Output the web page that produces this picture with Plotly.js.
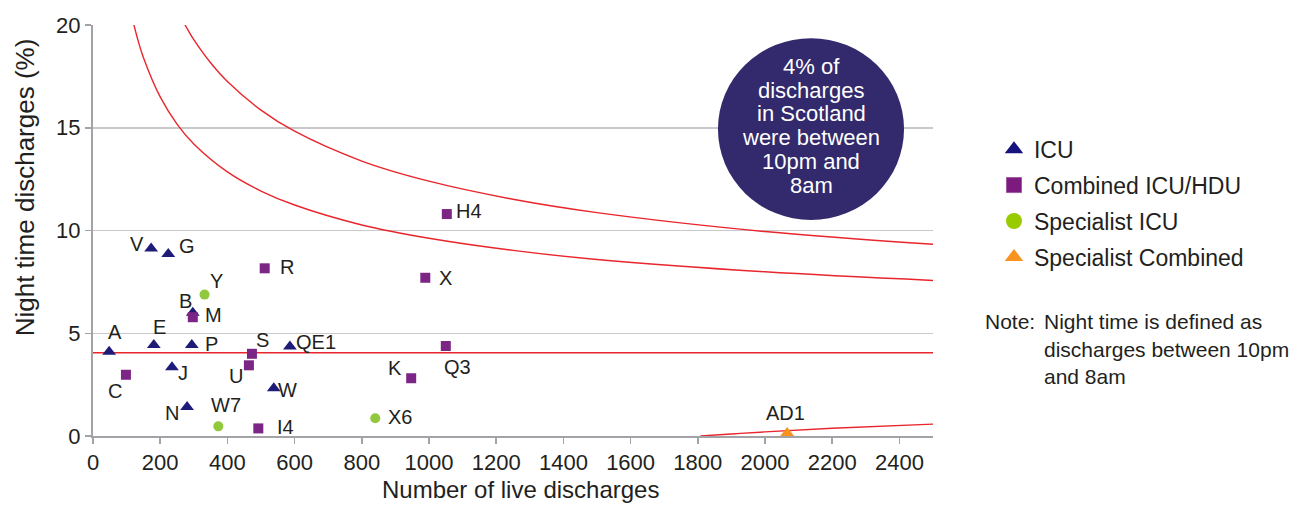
<!DOCTYPE html>
<html>
<head>
<meta charset="utf-8">
<script src="https://cdn.plot.ly/plotly-3.0.1.min.js"></script>
<style>html,body{margin:0;padding:0;background:#fff;}#chart{width:1300px;height:506px;}</style>
</head>
<body>
<div id="chart"></div>
<script>
// ---- Data ----
const icuLabels = ['A','V','G','E','P','J','N','W','QE1','B'];
const icuX      = [48, 173, 224, 181, 294, 235, 280, 538, 586, 297];
const icuY      = [4.1, 9.13, 8.86, 4.43, 4.43, 3.34, 1.41, 2.32, 4.35, 6.0];

const comboLabels = ['M','R','S','U','C','I4','K','X','H4','Q3'];
const comboX      = [297, 511, 473, 464, 98, 492, 947, 989, 1053, 1050];
const comboY      = [5.78, 8.16, 4.0, 3.44, 2.98, 0.37, 2.81, 7.7, 10.8, 4.38];

const specLabels = ['Y','W7','X6'];
const specX      = [332, 373, 840];
const specY      = [6.88, 0.47, 0.86];

const specCombLabels = ['AD1'];
const specCombX      = [2066];
const specCombY      = [0.15];

const seriesNames = ['ICU','Combined ICU/HDU','Specialist ICU','Specialist Combined'];

const meanRate = 4.05;
const meanX = [0, 2500];

const upper2X = [115, 130, 150, 200, 250, 300, 400, 500, 600, 800, 1000, 1250, 1500, 2000, 2500];
const upper2Y = [20.46, 19.49, 18.42, 16.50, 15.18, 14.21, 12.85, 11.92, 11.24, 10.27, 9.62, 9.03, 8.59, 7.99, 7.57];

const upper3X = [270, 285, 300, 350, 400, 500, 600, 800, 1000, 1250, 1500, 2000, 2500];
const upper3Y = [20.12, 19.69, 19.29, 18.16, 17.25, 15.86, 14.83, 13.38, 12.40, 11.52, 10.87, 9.95, 9.33];

const lower2X = [1808, 1900, 2000, 2200, 2500];
const lower2Y = [0.0, 0.10, 0.20, 0.38, 0.58];

const xTicks = [0,200,400,600,800,1000,1200,1400,1600,1800,2000,2200,2400];
const yTicks = [0,5,10,15,20];

const circleLines = ['4% of','discharges','in Scotland','were between','10pm and','8am'];
const noteLines = ['Night time is defined as','discharges between 10pm','and 8am'];

// ---- Styling / positions ----
const textColor = '#231f20';
const font = 'Liberation Sans, Arial, Helvetica, sans-serif';
const redLine = {color:'#e8262c', width:1.4, shape:'spline'};
const styles = [
  {symbol:'triangle-up', size:12, color:'#1e1c78'},
  {symbol:'square', size:10, color:'#7b2584'},
  {symbol:'circle', size:10, color:'#92c83e'},
  {symbol:'triangle-up', size:12, color:'#f7931e'}
];
const legendStyles = [
  {symbol:'triangle-up', size:16, color:'#16137e'},
  {symbol:'square', size:15, color:'#7d1a80', line:{color:'#9c5aa0', width:1}},
  {symbol:'circle', size:16, color:'#99cc00'},
  {symbol:'triangle-up', size:16, color:'#f7931e'}
];

const labelOffsets = {
  A:[6,-20], V:[-14,-4], G:[19,-8], E:[6,-18], P:[20,-1], J:[11,6], N:[-15,6],
  W:[14,2], QE1:[26,-5], B:[-7,-12], M:[21,-2], Y:[12,-14], R:[22,-1], S:[11,-14],
  U:[-13,11], C:[-11,16], W7:[8,-21], I4:[27,-1], X6:[25,-1], K:[-16,-10],
  X:[20,0], H4:[22,-3], Q3:[12,21], AD1:[-2,-20]
};

const lineTrace = (x, y) => ({x:x, y:y, mode:'lines', line:redLine, showlegend:false, hoverinfo:'skip'});

const seriesX = [icuX, comboX, specX, specCombX];
const seriesY = [icuY, comboY, specY, specCombY];
const seriesL = [icuLabels, comboLabels, specLabels, specCombLabels];

const traces = [
  lineTrace(meanX, meanX.map(() => meanRate)),
  lineTrace(upper2X, upper2Y),
  lineTrace(upper3X, upper3Y),
  lineTrace(lower2X, lower2Y)
];
seriesNames.forEach((nm, i) => {
  traces.push({x:seriesX[i], y:seriesY[i], text:seriesL[i], mode:'markers', name:nm,
    showlegend:false, marker:styles[i], cliponaxis:false});
});
// legend entries (bigger symbols, like the reference key)
seriesNames.forEach((nm, i) => {
  traces.push({x:[null], y:[null], mode:'markers', name:nm, legendgroup:'g'+i,
    showlegend:true, marker:legendStyles[i]});
});

const annotations = [];
seriesL.forEach((labels, s) => {
  labels.forEach((lab, i) => {
    const off = labelOffsets[lab] || [0,0];
    annotations.push({x:seriesX[s][i], y:seriesY[s][i], xref:'x', yref:'y', text:lab, showarrow:false,
      xshift:off[0], yshift:-off[1], font:{family:font, size:20, color:textColor}});
  });
});

const circleLineY = [0.8986, 0.8418, 0.7835, 0.7251, 0.6674, 0.6083];
circleLines.forEach((t, i) => annotations.push({
  x:0.8548, y:circleLineY[i], xref:'paper', yref:'paper', text:t, showarrow:false,
  font:{family:font, size:22, color:'#ffffff'}, xanchor:'center', yanchor:'middle'}));

annotations.push({x:1.0595, y:0.2781, xref:'paper', yref:'paper', text:'Note:', showarrow:false,
  xanchor:'left', yanchor:'middle', font:{family:font, size:21, color:textColor}});
const noteY = [0.2781, 0.2100, 0.1443];
noteLines.forEach((t, i) => annotations.push({x:1.1298, y:noteY[i], xref:'paper', yref:'paper', text:t,
  showarrow:false, xanchor:'left', yanchor:'middle', font:{family:font, size:21, color:textColor}}));

annotations.push({x:0.5095, y:-0.131, xref:'paper', yref:'paper', text:'Number of live discharges',
  showarrow:false, xanchor:'center', yanchor:'middle', font:{family:font, size:24, color:textColor}});
annotations.push({x:-0.081, y:0.605, xref:'paper', yref:'paper', text:'Night time discharges (%)',
  showarrow:false, textangle:-90, xanchor:'center', yanchor:'middle', font:{family:font, size:26, color:textColor}});

const layout = {
  width:1300, height:506,
  margin:{l:93, r:367, t:25, b:70},
  paper_bgcolor:'#ffffff', plot_bgcolor:'#ffffff',
  font:{family:font, color:textColor},
  xaxis:{range:[0,2500], tickvals:xTicks, ticktext:xTicks.map(String), showgrid:false, zeroline:false,
    showline:true, linecolor:'#a3a3a7', linewidth:2, ticks:'outside', ticklen:6, tickwidth:1.5,
    tickcolor:'#a3a3a7', tickfont:{family:font, size:22, color:textColor}},
  yaxis:{range:[0,20], tickvals:yTicks, ticktext:yTicks.map(String), showgrid:true, gridcolor:'#c9c9cb',
    gridwidth:1.5, zeroline:false, showline:true, linecolor:'#a3a3a7', linewidth:2, ticks:'outside',
    ticklen:6, tickwidth:1.5, tickcolor:'#a3a3a7', tickfont:{family:font, size:22, color:textColor}},
  legend:{x:1.0726, y:0.75, xanchor:'left', yanchor:'top', traceorder:'grouped', tracegroupgap:3,
    font:{family:font, size:23, color:textColor}, bgcolor:'rgba(0,0,0,0)', itemsizing:'trace'},
  shapes:[{type:'circle', xref:'paper', yref:'paper', x0:0.744, x1:0.9655, y0:0.5255, y1:0.968,
    fillcolor:'#322a6c', line:{width:0}, layer:'above'}],
  annotations:annotations,
  showlegend:true
};

Plotly.newPlot('chart', traces, layout, {displayModeBar:false, staticPlot:true});
</script>
</body>
</html>
